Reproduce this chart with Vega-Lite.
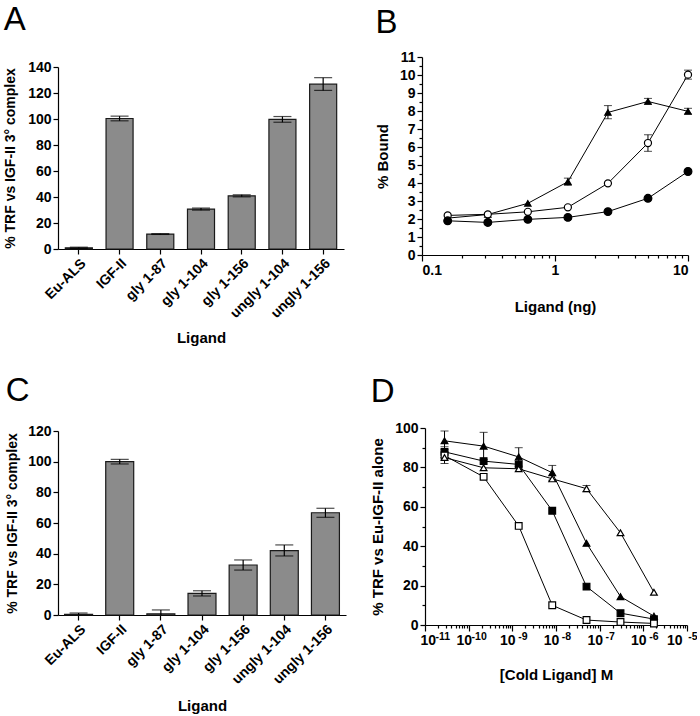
{
  "$schema": "https://vega.github.io/schema/vega-lite/v6.json",
  "padding": {"left": 3, "top": 4, "right": 0, "bottom": 0},
  "config": {
    "font": "Liberation Sans",
    "view": {"stroke": null},
    "axis": {
      "grid": false, "domainColor": "black", "tickColor": "black", "labelColor": "black", "titleColor": "black",
      "labelFont": "Liberation Sans", "labelFontWeight": "bold", "labelFontSize": 14,
      "titleFont": "Liberation Sans", "titleFontWeight": "bold", "titleFontSize": 15,
      "domainWidth": 1.2, "tickWidth": 1.2, "tickSize": 5, "labelPadding": 2, "labelOverlap": false
    },
    "title": {"fontSize": 33, "fontWeight": "normal", "anchor": "start", "frame": "bounds", "color": "black", "font": "Liberation Sans"}
  },
  "resolve": {"scale": {"shape": "independent", "fill": "independent", "size": "independent"}},
  "spacing": 29,
  "vconcat": [
    {
      "resolve": {"scale": {"shape": "independent", "fill": "independent", "size": "independent"}},
      "spacing": 31,
      "hconcat": [
        {
          "title": {"text": "A", "offset": 20},
          "width": 286, "height": 192,
          "data": {"values": [
            {"ligand": "Eu-ALS", "value": 0.9, "lo": 0.4, "hi": 1.4},
            {"ligand": "IGF-II", "value": 100.4, "lo": 98.6, "hi": 102.2},
            {"ligand": "gly 1-87", "value": 11.5, "lo": 11.2, "hi": 11.8},
            {"ligand": "gly 1-104", "value": 30.7, "lo": 29.9, "hi": 31.5},
            {"ligand": "gly 1-156", "value": 40.9, "lo": 40.1, "hi": 41.7},
            {"ligand": "ungly 1-104", "value": 99.7, "lo": 97.5, "hi": 101.9},
            {"ligand": "ungly 1-156", "value": 126.8, "lo": 122.0, "hi": 131.8}
          ]},
          "encoding": {
            "x": {"field": "ligand", "type": "nominal", "sort": null,
                  "scale": {"paddingInner": 0.336, "paddingOuter": 0.18},
                  "axis": {"labelAngle": -45, "title": "Ligand", "titlePadding": 10}}
          },
          "layer": [
            {"mark": {"type": "bar", "color": "#8b8b8b", "stroke": "#1a1a1a", "strokeWidth": 1.2},
             "encoding": {"y": {"field": "value", "type": "quantitative", "scale": {"domain": [0, 140], "range": [192, 10]},
                                "axis": {"values": [0, 20, 40, 60, 80, 100, 120, 140], "title": "% TRF vs IGF-II 3° complex", "titlePadding": 10, "titleFontSize": 14}}}},
            {"mark": {"type": "rule", "color": "black", "strokeWidth": 1.2},
             "encoding": {"y": {"field": "lo", "type": "quantitative", "scale": {"domain": [0, 140], "range": [192, 10]},
                                "axis": {"values": [0, 20, 40, 60, 80, 100, 120, 140], "title": "% TRF vs IGF-II 3° complex", "titlePadding": 10, "titleFontSize": 14}}, "y2": {"field": "hi"}}},
            {"mark": {"type": "tick", "color": "black", "size": 18, "thickness": 1.2},
             "encoding": {"y": {"field": "lo", "type": "quantitative", "scale": {"domain": [0, 140], "range": [192, 10]},
                                "axis": {"values": [0, 20, 40, 60, 80, 100, 120, 140], "title": "% TRF vs IGF-II 3° complex", "titlePadding": 10, "titleFontSize": 14}}}},
            {"mark": {"type": "tick", "color": "black", "size": 18, "thickness": 1.2},
             "encoding": {"y": {"field": "hi", "type": "quantitative", "scale": {"domain": [0, 140], "range": [192, 10]},
                                "axis": {"values": [0, 20, 40, 60, 80, 100, 120, 140], "title": "% TRF vs IGF-II 3° complex", "titlePadding": 10, "titleFontSize": 14}}}}
          ]
        },
        {
          "title": {"text": "B", "offset": 10},
          "width": 266, "height": 198,
          "data": {"values": [
            {"s": "tri", "x": 0.156, "y": 2.05},
            {"s": "tri", "x": 0.3125, "y": 2.25},
            {"s": "tri", "x": 0.625, "y": 2.87},
            {"s": "tri", "x": 1.25, "y": 4.07, "lo": 3.87, "hi": 4.27},
            {"s": "tri", "x": 2.5, "y": 7.92, "lo": 7.57, "hi": 8.3},
            {"s": "tri", "x": 5, "y": 8.53, "lo": 8.38, "hi": 8.7},
            {"s": "tri", "x": 10, "y": 7.98, "lo": 7.83, "hi": 8.15},
            {"s": "open", "x": 0.156, "y": 2.2},
            {"s": "open", "x": 0.3125, "y": 2.26},
            {"s": "open", "x": 0.625, "y": 2.4},
            {"s": "open", "x": 1.25, "y": 2.65},
            {"s": "open", "x": 2.5, "y": 3.98},
            {"s": "open", "x": 5, "y": 6.22, "lo": 5.76, "hi": 6.68},
            {"s": "open", "x": 10, "y": 10.02, "lo": 9.77, "hi": 10.27},
            {"s": "filled", "x": 0.156, "y": 1.9},
            {"s": "filled", "x": 0.3125, "y": 1.81},
            {"s": "filled", "x": 0.625, "y": 1.98},
            {"s": "filled", "x": 1.25, "y": 2.09},
            {"s": "filled", "x": 2.5, "y": 2.41},
            {"s": "filled", "x": 5, "y": 3.15},
            {"s": "filled", "x": 10, "y": 4.64}
          ]},
          "encoding": {
            "x": {"field": "x", "type": "quantitative",
                  "scale": {"type": "log", "domain": [0.1, 10]},
                  "axis": {"values": [0.1, 0.2, 0.3, 0.4, 0.5, 0.6, 0.7, 0.8, 0.9, 1, 2, 3, 4, 5, 6, 7, 8, 9, 10],
                           "labelExpr": "datum.value == 0.1 ? '0.1' : datum.value == 1 ? '1' : datum.value == 10 ? '10' : ''",
                           "tickSize": {"condition": {"test": "datum.value == 0.1 || datum.value == 1 || datum.value == 10", "value": 6}, "value": 3},
                           "title": "Ligand (ng)", "titlePadding": 22}}
          },
          "layer": [
            {"mark": {"type": "line", "color": "black", "strokeWidth": 1},
             "encoding": {"y": {"field": "y", "type": "quantitative", "scale": {"domain": [0, 11]},
                                "axis": {"values": [0, 0.5, 1, 1.5, 2, 2.5, 3, 3.5, 4, 4.5, 5, 5.5, 6, 6.5, 7, 7.5, 8, 8.5, 9, 9.5, 10, 10.5, 11],
                                         "labelExpr": "datum.value % 1 == 0 ? format(datum.value, 'd') : ''",
                                         "tickSize": {"condition": {"test": "datum.value % 1 == 0", "value": 5}, "value": 3},
                                         "title": "% Bound", "titlePadding": 9}},
                          "detail": {"field": "s"}}},
            {"transform": [{"filter": "isValid(datum.lo)"}],
             "mark": {"type": "rule", "color": "black", "strokeWidth": 1},
             "encoding": {"y": {"field": "lo", "type": "quantitative", "scale": {"domain": [0, 11]},
                                "axis": {"values": [0, 0.5, 1, 1.5, 2, 2.5, 3, 3.5, 4, 4.5, 5, 5.5, 6, 6.5, 7, 7.5, 8, 8.5, 9, 9.5, 10, 10.5, 11],
                                         "labelExpr": "datum.value % 1 == 0 ? format(datum.value, 'd') : ''",
                                         "tickSize": {"condition": {"test": "datum.value % 1 == 0", "value": 5}, "value": 3},
                                         "title": "% Bound", "titlePadding": 9}}, "y2": {"field": "hi"}}},
            {"transform": [{"filter": "isValid(datum.lo)"}],
             "mark": {"type": "tick", "color": "black", "size": 8, "thickness": 1, "orient": "horizontal"},
             "encoding": {"y": {"field": "lo", "type": "quantitative", "scale": {"domain": [0, 11]},
                                "axis": {"values": [0, 0.5, 1, 1.5, 2, 2.5, 3, 3.5, 4, 4.5, 5, 5.5, 6, 6.5, 7, 7.5, 8, 8.5, 9, 9.5, 10, 10.5, 11],
                                         "labelExpr": "datum.value % 1 == 0 ? format(datum.value, 'd') : ''",
                                         "tickSize": {"condition": {"test": "datum.value % 1 == 0", "value": 5}, "value": 3},
                                         "title": "% Bound", "titlePadding": 9}}}},
            {"transform": [{"filter": "isValid(datum.lo)"}],
             "mark": {"type": "tick", "color": "black", "size": 8, "thickness": 1, "orient": "horizontal"},
             "encoding": {"y": {"field": "hi", "type": "quantitative", "scale": {"domain": [0, 11]},
                                "axis": {"values": [0, 0.5, 1, 1.5, 2, 2.5, 3, 3.5, 4, 4.5, 5, 5.5, 6, 6.5, 7, 7.5, 8, 8.5, 9, 9.5, 10, 10.5, 11],
                                         "labelExpr": "datum.value % 1 == 0 ? format(datum.value, 'd') : ''",
                                         "tickSize": {"condition": {"test": "datum.value % 1 == 0", "value": 5}, "value": 3},
                                         "title": "% Bound", "titlePadding": 9}}}},
            {"mark": {"type": "point", "stroke": "black", "strokeWidth": 1.2, "opacity": 1, "filled": false},
             "encoding": {"y": {"field": "y", "type": "quantitative", "scale": {"domain": [0, 11]},
                                "axis": {"values": [0, 0.5, 1, 1.5, 2, 2.5, 3, 3.5, 4, 4.5, 5, 5.5, 6, 6.5, 7, 7.5, 8, 8.5, 9, 9.5, 10, 10.5, 11],
                                         "labelExpr": "datum.value % 1 == 0 ? format(datum.value, 'd') : ''",
                                         "tickSize": {"condition": {"test": "datum.value % 1 == 0", "value": 5}, "value": 3},
                                         "title": "% Bound", "titlePadding": 9}},
                          "shape": {"field": "s", "type": "nominal", "scale": {"domain": ["tri", "open", "filled"], "range": ["triangle-up", "circle", "circle"]}, "legend": null},
                          "fill": {"field": "s", "type": "nominal", "scale": {"domain": ["tri", "open", "filled"], "range": ["black", "white", "black"]}, "legend": null},
                          "size": {"field": "s", "type": "nominal", "scale": {"domain": ["tri", "open", "filled"], "range": [40, 60, 50]}, "legend": null}}}
          ]
        }
      ]
    },
    {
      "resolve": {"scale": {"shape": "independent", "fill": "independent", "size": "independent"}},
      "spacing": 24,
      "hconcat": [
        {
          "title": {"text": "C", "offset": 16},
          "width": 288, "height": 187,
          "data": {"values": [
            {"ligand": "Eu-ALS", "value": 0.5, "lo": 0, "hi": 1.3},
            {"ligand": "IGF-II", "value": 100, "lo": 98.5, "hi": 101.5},
            {"ligand": "gly 1-87", "value": 0.8, "lo": 0, "hi": 3.3},
            {"ligand": "gly 1-104", "value": 14.1, "lo": 12.4, "hi": 15.8},
            {"ligand": "gly 1-156", "value": 32.6, "lo": 29.3, "hi": 35.9},
            {"ligand": "ungly 1-104", "value": 42, "lo": 38.5, "hi": 45.7},
            {"ligand": "ungly 1-156", "value": 66.7, "lo": 63.7, "hi": 69.6}
          ]},
          "encoding": {
            "x": {"field": "ligand", "type": "nominal", "sort": null,
                  "scale": {"paddingInner": 0.32, "paddingOuter": 0.16},
                  "axis": {"labelAngle": -45, "title": "Ligand", "titlePadding": 12}}
          },
          "layer": [
            {"mark": {"type": "bar", "color": "#8b8b8b", "stroke": "#1a1a1a", "strokeWidth": 1.2},
             "encoding": {"y": {"field": "value", "type": "quantitative", "scale": {"domain": [0, 120], "range": [187, 3]},
                                "axis": {"values": [0, 20, 40, 60, 80, 100, 120], "title": "% TRF vs IGF-II 3° complex", "titlePadding": 8, "titleFontSize": 14}}}},
            {"mark": {"type": "rule", "color": "black", "strokeWidth": 1.2},
             "encoding": {"y": {"field": "lo", "type": "quantitative", "scale": {"domain": [0, 120], "range": [187, 3]},
                                "axis": {"values": [0, 20, 40, 60, 80, 100, 120], "title": "% TRF vs IGF-II 3° complex", "titlePadding": 8, "titleFontSize": 14}}, "y2": {"field": "hi"}}},
            {"transform": [{"filter": "datum.lo > 0"}],
             "mark": {"type": "tick", "color": "black", "size": 18, "thickness": 1.2},
             "encoding": {"y": {"field": "lo", "type": "quantitative", "scale": {"domain": [0, 120], "range": [187, 3]},
                                "axis": {"values": [0, 20, 40, 60, 80, 100, 120], "title": "% TRF vs IGF-II 3° complex", "titlePadding": 8, "titleFontSize": 14}}}},
            {"mark": {"type": "tick", "color": "black", "size": 18, "thickness": 1.2},
             "encoding": {"y": {"field": "hi", "type": "quantitative", "scale": {"domain": [0, 120], "range": [187, 3]},
                                "axis": {"values": [0, 20, 40, 60, 80, 100, 120], "title": "% TRF vs IGF-II 3° complex", "titlePadding": 8, "titleFontSize": 14}}}}
          ]
        },
        {
          "title": {"text": "D", "offset": 12},
          "width": 262, "height": 197,
          "data": {"values": [
            {"s": "ftri", "x": 2.8e-11, "y": 93.5, "lo": 89, "hi": 98.5},
            {"s": "ftri", "x": 2.2e-10, "y": 90.8, "lo": 84, "hi": 97.8},
            {"s": "ftri", "x": 1.4e-9, "y": 85.3, "lo": 80.6, "hi": 90},
            {"s": "ftri", "x": 8.2e-9, "y": 77.3, "lo": 73.5, "hi": 81},
            {"s": "ftri", "x": 5e-8, "y": 41.5},
            {"s": "ftri", "x": 3e-7, "y": 14.4},
            {"s": "ftri", "x": 1.75e-6, "y": 4.5},
            {"s": "fsq", "x": 2.8e-11, "y": 87.9, "lo": 85, "hi": 90.5},
            {"s": "fsq", "x": 2.2e-10, "y": 83.2},
            {"s": "fsq", "x": 1.4e-9, "y": 81.5},
            {"s": "fsq", "x": 8.2e-9, "y": 58},
            {"s": "fsq", "x": 5e-8, "y": 19.5},
            {"s": "fsq", "x": 3e-7, "y": 6},
            {"s": "fsq", "x": 1.75e-6, "y": 3},
            {"s": "osq", "x": 2.8e-11, "y": 86},
            {"s": "osq", "x": 2.2e-10, "y": 75.2},
            {"s": "osq", "x": 1.4e-9, "y": 50.3},
            {"s": "osq", "x": 8.2e-9, "y": 10},
            {"s": "osq", "x": 5e-8, "y": 2.5},
            {"s": "osq", "x": 3e-7, "y": 1.5},
            {"s": "osq", "x": 1.75e-6, "y": 0.8},
            {"s": "otri", "x": 2.8e-11, "y": 85, "lo": 82, "hi": 88},
            {"s": "otri", "x": 2.2e-10, "y": 79.8},
            {"s": "otri", "x": 1.4e-9, "y": 79.3},
            {"s": "otri", "x": 8.2e-9, "y": 74.2},
            {"s": "otri", "x": 5e-8, "y": 69.2, "lo": 67.7, "hi": 70.8},
            {"s": "otri", "x": 3e-7, "y": 46.8},
            {"s": "otri", "x": 1.75e-6, "y": 16.6}
          ]},
          "resolve": {"axis": {"x": "independent"}},
          "layer": [
            {"mark": {"type": "line", "color": "black", "strokeWidth": 1},
             "encoding": {
               "x": {"field": "x", "type": "quantitative",
                     "scale": {"type": "log", "domain": [1e-11, 1e-5]},
                     "axis": {"orient": "bottom",
                              "values": [1e-11, 2e-11, 3e-11, 4e-11, 5e-11, 6e-11, 7e-11, 8e-11, 9e-11,
                                         1e-10, 2e-10, 3e-10, 4e-10, 5e-10, 6e-10, 7e-10, 8e-10, 9e-10,
                                         1e-9, 2e-9, 3e-9, 4e-9, 5e-9, 6e-9, 7e-9, 8e-9, 9e-9,
                                         1e-8, 2e-8, 3e-8, 4e-8, 5e-8, 6e-8, 7e-8, 8e-8, 9e-8,
                                         1e-7, 2e-7, 3e-7, 4e-7, 5e-7, 6e-7, 7e-7, 8e-7, 9e-7,
                                         1e-6, 2e-6, 3e-6, 4e-6, 5e-6, 6e-6, 7e-6, 8e-6, 9e-6, 1e-5],
                              "labelExpr": "indexof([1e-11, 1e-10, 1e-9, 1e-8, 1e-7, 1e-6, 1e-5], datum.value) >= 0 ? '10' : ''",
                              "labelOffset": -5,
                              "tickSize": {"condition": {"test": "indexof([1e-11, 1e-10, 1e-9, 1e-8, 1e-7, 1e-6, 1e-5], datum.value) >= 0", "value": 6}, "value": 3},
                              "title": "[Cold Ligand] M", "titlePadding": 20}},
               "y": {"field": "y", "type": "quantitative", "scale": {"domain": [0, 100]},
                     "axis": {"values": [0, 10, 20, 30, 40, 50, 60, 70, 80, 90, 100],
                              "labelExpr": "datum.value % 20 == 0 ? datum.label : ''",
                              "tickSize": {"condition": {"test": "datum.value % 20 == 0", "value": 5}, "value": 3},
                              "title": "% TRF vs Eu-IGF-II alone", "titlePadding": 9}},
               "detail": {"field": "s"}}},
            {"transform": [{"filter": "isValid(datum.lo)"}],
             "mark": {"type": "rule", "color": "black", "strokeWidth": 1},
             "encoding": {
               "x": {"field": "x", "type": "quantitative", "scale": {"type": "log", "domain": [1e-11, 1e-5]}, "axis": null},
               "y": {"field": "lo", "type": "quantitative", "scale": {"domain": [0, 100]},
                     "axis": {"values": [0, 10, 20, 30, 40, 50, 60, 70, 80, 90, 100],
                              "labelExpr": "datum.value % 20 == 0 ? datum.label : ''",
                              "tickSize": {"condition": {"test": "datum.value % 20 == 0", "value": 5}, "value": 3},
                              "title": "% TRF vs Eu-IGF-II alone", "titlePadding": 9}}, "y2": {"field": "hi"}}},
            {"transform": [{"filter": "isValid(datum.lo)"}],
             "mark": {"type": "tick", "color": "black", "size": 8, "thickness": 1, "orient": "horizontal"},
             "encoding": {
               "x": {"field": "x", "type": "quantitative", "scale": {"type": "log", "domain": [1e-11, 1e-5]}, "axis": null},
               "y": {"field": "lo", "type": "quantitative", "scale": {"domain": [0, 100]},
                     "axis": {"values": [0, 10, 20, 30, 40, 50, 60, 70, 80, 90, 100],
                              "labelExpr": "datum.value % 20 == 0 ? datum.label : ''",
                              "tickSize": {"condition": {"test": "datum.value % 20 == 0", "value": 5}, "value": 3},
                              "title": "% TRF vs Eu-IGF-II alone", "titlePadding": 9}}}},
            {"transform": [{"filter": "isValid(datum.lo)"}],
             "mark": {"type": "tick", "color": "black", "size": 8, "thickness": 1, "orient": "horizontal"},
             "encoding": {
               "x": {"field": "x", "type": "quantitative", "scale": {"type": "log", "domain": [1e-11, 1e-5]}, "axis": null},
               "y": {"field": "hi", "type": "quantitative", "scale": {"domain": [0, 100]},
                     "axis": {"values": [0, 10, 20, 30, 40, 50, 60, 70, 80, 90, 100],
                              "labelExpr": "datum.value % 20 == 0 ? datum.label : ''",
                              "tickSize": {"condition": {"test": "datum.value % 20 == 0", "value": 5}, "value": 3},
                              "title": "% TRF vs Eu-IGF-II alone", "titlePadding": 9}}}},
            {"mark": {"type": "point", "stroke": "black", "strokeWidth": 1.2, "opacity": 1, "filled": false},
             "encoding": {
               "x": {"field": "x", "type": "quantitative",
                     "scale": {"type": "log", "domain": [1e-11, 1e-5]},
                     "axis": {"orient": "bottom", "domain": false, "ticks": true, "tickOpacity": 0, "tickSize": 6,
                              "values": [1e-11, 1e-10, 1e-9, 1e-8, 1e-7, 1e-6, 1e-5],
                              "labelExpr": "datum.value == 1e-11 ? '-11' : datum.value == 1e-10 ? '-10' : datum.value == 1e-9 ? '-9' : datum.value == 1e-8 ? '-8' : datum.value == 1e-7 ? '-7' : datum.value == 1e-6 ? '-6' : '-5'",
                              "labelFontSize": 10.5, "labelOffset": 10, "labelPadding": 0,
                              "title": null}},
               "y": {"field": "y", "type": "quantitative", "scale": {"domain": [0, 100]},
                     "axis": {"values": [0, 10, 20, 30, 40, 50, 60, 70, 80, 90, 100],
                              "labelExpr": "datum.value % 20 == 0 ? datum.label : ''",
                              "tickSize": {"condition": {"test": "datum.value % 20 == 0", "value": 5}, "value": 3},
                              "title": "% TRF vs Eu-IGF-II alone", "titlePadding": 9}},
               "shape": {"field": "s", "type": "nominal", "scale": {"domain": ["ftri", "fsq", "osq", "otri"], "range": ["triangle-up", "square", "square", "triangle-up"]}, "legend": null},
               "fill": {"field": "s", "type": "nominal", "scale": {"domain": ["ftri", "fsq", "osq", "otri"], "range": ["black", "black", "white", "white"]}, "legend": null},
               "size": {"value": 45}}}
          ]
        }
      ]
    }
  ]
}
